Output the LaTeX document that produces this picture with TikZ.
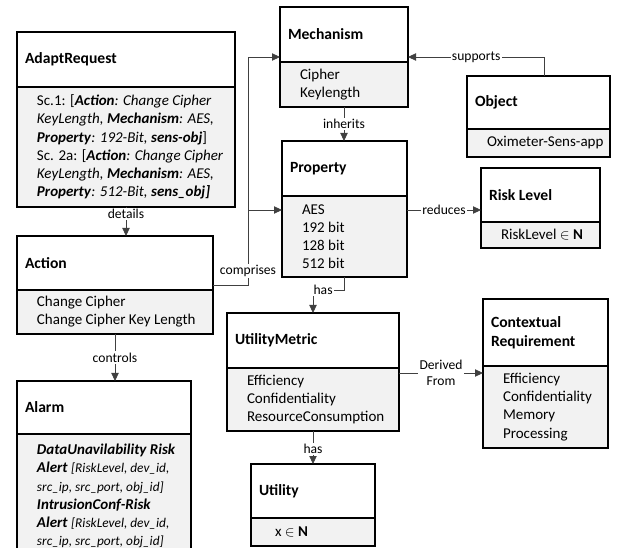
\documentclass[tikz,border=0pt]{standalone}
\usepackage{fontspec}
\setmainfont{Carlito}
\usetikzlibrary{positioning, arrows.meta, calc}

\definecolor{bodyfill}{HTML}{F2F2F2}
\definecolor{linegray}{HTML}{404040}

\begin{document}
\begin{tikzpicture}[
    x=0.75pt, y=-0.75pt, % one unit is one pixel, counted downwards
    >={Triangle[length=6pt, width=5.5pt]},
    % Styles
    head/.style 2 args={ % Class name part
        draw,
        line width=0.8pt,
        outer sep=0pt,
        anchor=north west,
        align=flush left,
        font=\fontsize{11.7}{14.3}\selectfont\bfseries,
        inner xsep=6pt,
        text width=(#1-16)*0.75pt,
        minimum height=#2*0.75pt
    },
    body/.style 2 args={ % Attribute part
        draw,
        line width=0.8pt,
        outer sep=0pt,
        fill=bodyfill,
        anchor=north west,
        align=flush left,
        font=\fontsize{11.25}{13.6}\selectfont,
        inner xsep=3pt,
        text width=(#1-8)*0.75pt,
        minimum height=#2*0.75pt,
        execute at begin node={\leftskip=12pt}
    },
    arrow/.style={
        ->,
        draw=linegray,
        line width=0.6pt
    },
    lbl/.style={ % Connector labels
        fill=white,
        font=\fontsize{10.2}{12.2}\selectfont,
        inner sep=1pt,
        text=black
    }
]
    \useasboundingbox (0,0) rectangle (631,548);

    % Left column
    \node[head={218}{55}] (adapt) at (17,32) {AdaptRequest};
    \node[body={218}{120}] (adaptlist) at (adapt.south west) {Sc.1: [\textbf{\textit{Action}}\textit{: Change Cipher}\\
        \textit{KeyLength, \textbf{Mechanism}: AES,}\\
        \textbf{\textit{Property}}\textit{: 192-Bit, \textbf{sens-obj}}]\\
        Sc. 2a: [\textbf{\textit{Action}}\textit{: Change Cipher}\\
        \textit{KeyLength, \textbf{Mechanism}: AES,}\\
        \textbf{\textit{Property}}\textit{: 512-Bit, \textbf{sens\_obj]}}};
    \node[head={196}{54}] (action) at (17,236) {Action};
    \node[body={196}{44}] (actionlist) at (action.south west) {Change Cipher\\Change Cipher Key Length};
    \node[head={174}{53}] (alarm) at (17,381) {Alarm};
    \node[body={174}{124}] (alarmlist) at (alarm.south west) {\textbf{\textit{DataUnavilability Risk}}\\
        \textbf{\textit{Alert}} {\fontsize{10}{13.6}\selectfont\itshape [RiskLevel, dev\_id,}\\
        {\fontsize{10}{13.6}\selectfont\itshape src\_ip, src\_port, obj\_id]}\\
        \textbf{\textit{IntrusionConf-Risk}}\\
        \textbf{\textit{Alert}} {\fontsize{10}{13.6}\selectfont\itshape [RiskLevel, dev\_id,}\\
        {\fontsize{10}{13.6}\selectfont\itshape src\_ip, src\_port, obj\_id]}};

    % Middle column
    \node[head={128}{55}] (mech) at (280,7) {Mechanism};
    \node[body={128}{45}] (mechlist) at (mech.south west) {Cipher\\Keylength};
    \node[head={125}{55}] (prop) at (282,141) {Property};
    \node[body={125}{81}] (proplist) at (prop.south west) {AES\\192 bit\\128 bit\\512 bit};
    \node[head={172}{55}] (metric) at (227,313) {UtilityMetric};
    \node[body={172}{63}] (metriclist) at (metric.south west) {Efficiency\\Confidentiality\\ResourceConsumption};
    \node[head={124}{54}] (utility) at (251,464) {Utility};
    \node[body={124}{28}] (utilitylist) at (utility.south west) {\hspace{3pt}x $\in$ \textbf{N}};

    % Right column
    \node[head={143}{53}] (obj) at (467,76) {Object};
    \node[body={143}{28}] (objlist) at (obj.south west) {Oximeter-Sens-app};
    \node[head={119}{54}] (risk) at (481,168) {Risk Level};
    \node[body={119}{26}] (risklist) at (risk.south west) {RiskLevel $\in$ \textbf{N}};
    \node[head={125}{67}] (ctx) at (483,299) {Contextual\\Requirement};
    \node[body={125}{82}] (ctxlist) at (ctx.south west) {Efficiency\\Confidentiality\\Memory\\Processing};

    % Connectors
    \coordinate (trunk) at (248,57);
    \coordinate (aes) at ($(proplist.north)+(0,14)$);
    \coordinate (derived) at ($(metriclist.north east)+(0,5)$);

    \draw[arrow] (adaptlist.south) -- (adaptlist.south |- action.north) node[lbl, pos=0.25] {details};
    \draw[arrow] (actionlist.south) -- (actionlist.south |- alarm.north) node[lbl, pos=0.5] {controls};
    \draw[arrow] (mechlist.south) -- (mechlist.south |- prop.north) node[lbl, midway] {inherits};
    \draw[arrow] ($(actionlist.north east)+(0,-5)$) -| (trunk) node[lbl, pos=0.53] {comprises} -- (trunk -| mech.west);
    \draw[arrow] (trunk |- aes) -- (proplist.west |- aes);
    \draw[arrow] ($(obj.north)+(6,0)$) |- (trunk -| mech.east) node[lbl, pos=0.75] {supports};
    \draw[arrow] (proplist.east |- aes) -- (risk.west |- aes) node[lbl, midway] {reduces};
    \draw[arrow] (proplist.south) -- ++(0,13) -| (metric.north) node[lbl, pos=0.34] {has};
    \draw[arrow] (derived) -- (derived -| ctxlist.west) node[lbl, midway, align=center] {Derived\\From};
    \draw[arrow] (metriclist.south) -- (utility.north) node[lbl, pos=0.55] {has};
\end{tikzpicture}
\end{document}
